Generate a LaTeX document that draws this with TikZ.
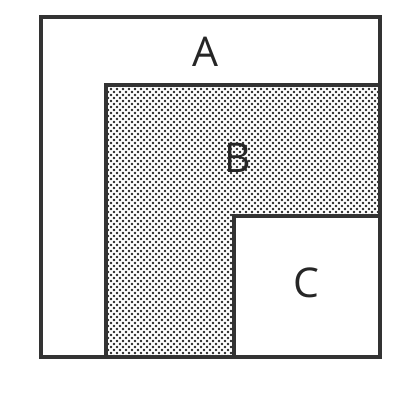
\documentclass[tikz,border=0pt]{standalone}
\usepackage{fontspec}
\setmainfont{Open Sans}
\usetikzlibrary{patterns}
% staggered dot screen for the shaded region
\pgfdeclarepatternformonly{fine dots}{\pgfqpoint{-2pt}{-2pt}}{\pgfqpoint{5pt}{5pt}}{\pgfqpoint{6pt}{6pt}}{
  \pgfpathcircle{\pgfqpoint{0pt}{0pt}}{1.4pt}
  \pgfpathcircle{\pgfqpoint{3pt}{3pt}}{1.4pt}
  \pgfusepath{fill}
}
\begin{document}
\begin{tikzpicture}[
    x=1pt, y=-1pt,
    region/.style={draw=black!80, line width=3.2pt},
    letter/.style={font=\fontsize{41}{48}\selectfont, text=black!85, inner sep=0pt}
  ]
  \useasboundingbox (0,0) rectangle (414,410);
  % outer square A
  \draw[region] (41,17) rectangle (380,357);
  % shaded L-shaped region B
  \draw[region, pattern=fine dots, pattern color=black!85]
    (106,85) -- (380,85) -- (380,216) -- (234,216) -- (234,357) -- (106,357) -- cycle;
  % inner square C
  \draw[region] (234,216) rectangle (380,357);
  \node[letter] (labelA) at (205,52) {A};
  \node[letter] (labelB) at (238,158) {B};
  \node[letter] (labelC) at (306,283) {C};
\end{tikzpicture}
\end{document}
